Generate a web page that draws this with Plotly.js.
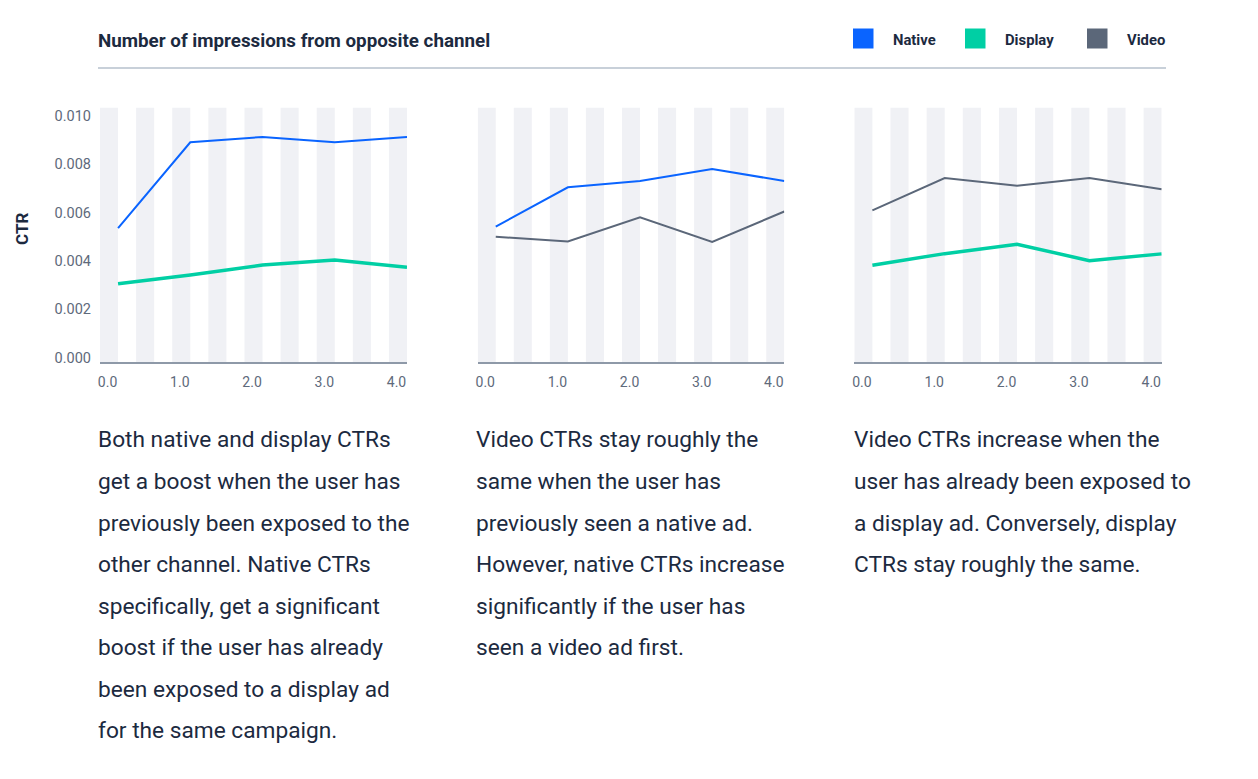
<!DOCTYPE html>
<html>
<head>
<meta charset="utf-8">
<script src="https://cdn.plot.ly/plotly-3.0.1.min.js"></script>
<style>
  html, body { margin: 0; padding: 0; background: #ffffff; }
  #chart { width: 1258px; height: 779px; }
</style>
</head>
<body>
<div id="chart"></div>
<script>
// ---- data ----
const xValues = [0, 1, 2, 3, 4];
const xTickText = ['0.0', '1.0', '2.0', '3.0', '4.0'];
const yTickVals = [0, 0.002, 0.004, 0.006, 0.008, 0.010];
const yTickText = ['0.000', '0.002', '0.004', '0.006', '0.008', '0.010'];

// Panel 1: Native & Display
const p1Native  = [0.00543, 0.00898, 0.00920, 0.00898, 0.00920];
const p1Display = [0.00314, 0.00350, 0.00391, 0.00412, 0.00382];
// Panel 2: Native & Video
const p2Native  = [0.00550, 0.00712, 0.00738, 0.00788, 0.00738];
const p2Video   = [0.00508, 0.00488, 0.00588, 0.00486, 0.00612];
// Panel 3: Video & Display
const p3Video   = [0.00617, 0.00750, 0.00719, 0.00750, 0.00704];
const p3Display = [0.00390, 0.00438, 0.00477, 0.00409, 0.00437];

const legendNames = ['Native', 'Display', 'Video'];
const chartTitle = 'Number of impressions from opposite channel';
const yAxisTitle = 'CTR';

const captions = [
  ['Both native and display CTRs', 'get a boost when the user has', 'previously been exposed to the',
   'other channel. Native CTRs', 'specifically, get a significant', 'boost if the user has already',
   'been exposed to a display ad', 'for the same campaign.'],
  ['Video CTRs stay roughly the', 'same when the user has', 'previously seen a native ad.',
   'However, native CTRs increase', 'significantly if the user has', 'seen a video ad first.'],
  ['Video CTRs increase when the', 'user has already been exposed to',
   'a display ad. Conversely, display', 'CTRs stay roughly the same.']
];

// ---- styling ----
const W = 1258, H = 779;
const C = { Native: '#0a64ff', Display: '#00cfa4', Video: '#5b6779' };
const textColor = '#1c2a3f';
const tickColor = '#5e6a7b';
const px = x => x / W;
const py = y => 1 - y / H;

const panelX = [[100, 407], [477.7, 784.3], [854.3, 1161.7]];
const plotTop = 107.7, plotBottom = 362.3;
const yRange = [-0.00011, 0.01041];
const xRange = [-0.25, 4];

function lineTrace(name, y, axisIdx) {
  const sfx = axisIdx === 1 ? '' : String(axisIdx);
  return {
    type: 'scatter', mode: 'lines', name: name,
    x: xValues, y: y,
    xaxis: 'x' + sfx, yaxis: 'y' + sfx,
    line: { color: C[name], width: name === 'Display' ? 3.5 : 2 },
    showlegend: false, hoverinfo: 'x+y+name'
  };
}

const traces = [
  lineTrace('Display', p1Display, 1), lineTrace('Native', p1Native, 1),
  lineTrace('Video', p2Video, 2), lineTrace('Native', p2Native, 2),
  lineTrace('Display', p3Display, 3), lineTrace('Video', p3Video, 3)
];

const layout = {
  width: W, height: H,
  margin: { l: 0, r: 0, t: 0, b: 0 },
  paper_bgcolor: '#ffffff', plot_bgcolor: 'rgba(0,0,0,0)',
  font: { family: 'Roboto, "Open Sans", sans-serif', color: textColor },
  showlegend: false,
  shapes: [], annotations: []
};

for (let i = 0; i < 3; i++) {
  const sfx = i === 0 ? '' : String(i + 1);
  layout['xaxis' + sfx] = {
    domain: [px(panelX[i][0]), px(panelX[i][1])],
    anchor: 'y' + sfx,
    range: xRange, fixedrange: true,
    tickvals: xValues, ticktext: xTickText,
    ticklabelposition: 'outside left',
    ticks: '', ticklabelstandoff: 6,
    tickfont: { size: 14, color: tickColor, family: 'Roboto' },
    showgrid: false, zeroline: false,
    showline: true, linecolor: '#8e99a8', linewidth: 1.5
  };
  layout['yaxis' + sfx] = {
    domain: [py(plotBottom), py(plotTop)],
    anchor: 'x' + sfx,
    range: yRange, fixedrange: true,
    tickvals: yTickVals, ticktext: yTickText,
    showticklabels: i === 0,
    ticks: '', ticklabelstandoff: 8, ticklabelshift: -2,
    tickfont: { size: 14.5, color: tickColor, family: 'Roboto' },
    showgrid: false, zeroline: false, showline: false
  };
  // background stripes
  for (let k = 0; k < 9; k++) {
    const x0 = xRange[0] + 0.5 * k;
    layout.shapes.push({
      type: 'rect', layer: 'below',
      xref: 'x' + sfx, yref: 'y' + sfx + ' domain',
      x0: x0, x1: x0 + 0.25, y0: 0, y1: 1,
      fillcolor: '#f0f1f5', line: { width: 0 }
    });
  }
  // captions
  captions[i].forEach((line, j) => {
    layout.annotations.push({
      xref: 'paper', yref: 'paper',
      x: px([96, 474, 852][i]), y: py(440 + j * 41.57),
      xanchor: 'left', yanchor: 'middle', showarrow: false,
      text: line, font: { size: 22.7, color: textColor, family: 'Roboto' }
    });
  });
}

// title
layout.annotations.push({
  xref: 'paper', yref: 'paper', x: px(96), y: py(41),
  xanchor: 'left', yanchor: 'middle', showarrow: false,
  text: '<b>' + chartTitle + '</b>',
  font: { size: 18.8, color: textColor, family: 'Roboto' }
});
// y axis title
layout.annotations.push({
  xref: 'paper', yref: 'paper', x: px(22), y: py(229),
  xanchor: 'center', yanchor: 'middle', showarrow: false, textangle: -90,
  text: '<b>' + yAxisTitle + '</b>',
  font: { size: 17, color: textColor, family: 'Roboto' }
});
// separator
layout.shapes.push({
  type: 'line', xref: 'paper', yref: 'paper',
  x0: px(98), x1: px(1166), y0: py(68), y1: py(68),
  line: { color: '#c8d0d9', width: 2 }
});
// legend (manual, squares)
const legendSquareX = [853, 965, 1087];
legendNames.forEach((name, i) => {
  const sx = legendSquareX[i];
  layout.shapes.push({
    type: 'rect', xref: 'paper', yref: 'paper',
    x0: px(sx), x1: px(sx + 20.5), y0: py(48.5), y1: py(28.5),
    fillcolor: C[name], line: { width: 0 }
  });
  layout.annotations.push({
    xref: 'paper', yref: 'paper', x: px(sx + 38), y: py(40),
    xanchor: 'left', yanchor: 'middle', showarrow: false,
    text: '<b>' + name + '</b>',
    font: { size: 14.8, color: textColor, family: 'Roboto' }
  });
});

Plotly.newPlot('chart', traces, layout, { displayModeBar: false, staticPlot: true });
</script>
</body>
</html>
